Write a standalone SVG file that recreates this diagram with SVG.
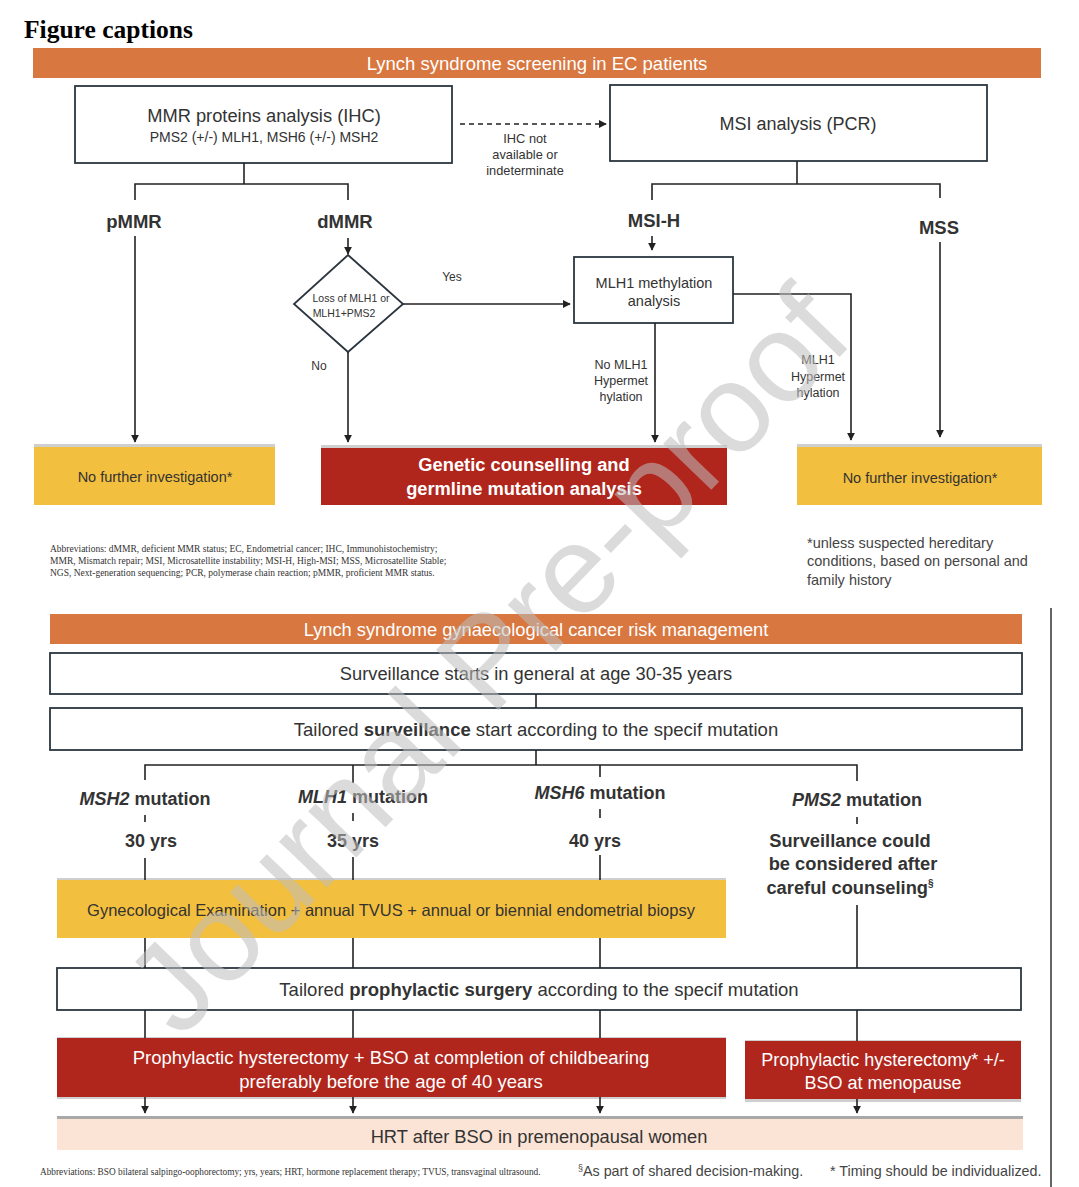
<svg xmlns="http://www.w3.org/2000/svg" width="1079" height="1187" viewBox="0 0 1079 1187">
<defs>
<style>
.bx{fill:#fff;stroke:#2b3640;stroke-width:1.8}
.ban{fill:#D8773F}
.yel{fill:#F3BF3E}
.red{fill:#B0261D}
.sh{fill:#cfcfcf}
.t{font-family:"Liberation Sans",Arial,sans-serif;fill:#333;text-anchor:middle}
.w{fill:#fff}
.b{font-weight:bold}
.ln{stroke:#222;stroke-width:1.6;fill:none}
.ab{font-family:"Liberation Serif","Times New Roman",serif;fill:#333}
.nt{font-family:"Liberation Sans",Arial,sans-serif;fill:#444}
</style>
<marker id="ah" viewBox="0 0 10 10" refX="9" refY="5" markerWidth="5" markerHeight="5" orient="auto-start-reverse">
<path d="M0,0 L10,5 L0,10 z" fill="#222"/>
</marker>
</defs>
<rect width="1079" height="1187" fill="#fff"/>

<text x="24" y="38" font-family="Liberation Serif,'Times New Roman',serif" font-weight="bold" font-size="25.5" fill="#000">Figure captions</text>

<!-- Section 1 -->
<g id="banner1">
<rect class="ban" x="33" y="48" width="1008" height="30"/>
<text class="t w" x="537" y="69.5" font-size="18.5">Lynch syndrome screening in EC patients</text>
</g>
<g id="mmr">
<rect class="bx" x="75" y="86" width="377" height="77"/>
<text class="t" x="264" y="122" font-size="18.3">MMR proteins analysis (IHC)</text>
<text class="t" x="264" y="142" font-size="14">PMS2 (+/-) MLH1, MSH6 (+/-) MSH2</text>
</g>
<g id="msi">
<rect class="bx" x="610" y="85" width="377" height="76"/>
<text class="t" x="798" y="130" font-size="18">MSI analysis (PCR)</text>
</g>
<g id="lbl-pmmr"><text class="t b" x="134" y="228" font-size="18.5">pMMR</text></g>
<g id="lbl-dmmr"><text class="t b" x="345" y="228" font-size="18.5">dMMR</text></g>
<g id="lbl-msih"><text class="t b" x="654" y="227" font-size="18.5">MSI-H</text></g>
<g id="lbl-mss"><text class="t b" x="939" y="234" font-size="18.5">MSS</text></g>
<g id="diamond">
<polygon class="bx" points="348,255 403,304 348,352 294,304"/>
<text class="t" x="351" y="302" font-size="10.5">Loss of MLH1 or</text>
<text class="t" x="344" y="317" font-size="10.5">MLH1+PMS2</text>
</g>
<g id="methyl">
<rect class="bx" x="574" y="257" width="159" height="66"/>
<text class="t" x="654" y="288" font-size="14.5">MLH1 methylation</text>
<text class="t" x="654" y="306" font-size="14.5">analysis</text>
</g>
<g id="nfi1">
<rect class="sh" x="34" y="444" width="241" height="3"/>
<rect class="yel" x="34" y="447" width="241" height="58"/>
<text class="t" x="155" y="482" font-size="14.5">No further investigation*</text>
</g>
<g id="genetic">
<rect class="sh" x="321" y="445" width="406" height="3"/>
<rect class="red" x="321" y="448" width="406" height="57"/>
<text class="t w b" x="524" y="471" font-size="18.3">Genetic counselling and</text>
<text class="t w b" x="524" y="495" font-size="18.3">germline mutation analysis</text>
</g>
<g id="nfi2">
<rect class="sh" x="797" y="444" width="245" height="3"/>
<rect class="yel" x="797" y="447" width="245" height="58"/>
<text class="t" x="920" y="483" font-size="14.5">No further investigation*</text>
</g>

<g id="connectors1">
<line x1="460" y1="124" x2="606" y2="124" stroke="#222" stroke-width="1.6" stroke-dasharray="5,4" marker-end="url(#ah)"/>
<polyline class="ln" points="244,163 244,184"/>
<polyline class="ln" points="135,200 135,184 348,184 348,200"/>
<line class="ln" x1="135" y1="236" x2="135" y2="442" marker-end="url(#ah)"/>
<line class="ln" x1="348" y1="238" x2="348" y2="254" marker-end="url(#ah)"/>
<line class="ln" x1="403" y1="304" x2="570" y2="304" marker-end="url(#ah)"/>
<line class="ln" x1="348" y1="352" x2="348" y2="442" marker-end="url(#ah)"/>
<polyline class="ln" points="797,161 797,184"/>
<polyline class="ln" points="652,200 652,184 940,184 940,198"/>
<line class="ln" x1="652" y1="236" x2="652" y2="250" marker-end="url(#ah)"/>
<line class="ln" x1="940" y1="242" x2="940" y2="437" marker-end="url(#ah)"/>
<line class="ln" x1="655" y1="323" x2="655" y2="442" marker-end="url(#ah)"/>
<polyline class="ln" points="733,294 851,294 851,440" marker-end="url(#ah)"/>
</g>
<g id="labels1">
<text class="t" x="525" y="143" font-size="12.8">IHC not</text>
<text class="t" x="525" y="159" font-size="12.8">available or</text>
<text class="t" x="525" y="175" font-size="12.8">indeterminate</text>
<text class="t" x="452" y="281" font-size="12">Yes</text>
<text class="t" x="319" y="370" font-size="12">No</text>
<text class="t" x="621" y="369" font-size="12.5">No MLH1</text>
<text class="t" x="621" y="385" font-size="12.5">Hypermet</text>
<text class="t" x="621" y="401" font-size="12.5">hylation</text>
<text class="t" x="818" y="364" font-size="12.5">MLH1</text>
<text class="t" x="818" y="381" font-size="12.5">Hypermet</text>
<text class="t" x="818" y="397" font-size="12.5">hylation</text>
</g>
<g id="abbr1">
<text class="ab" x="50" y="552" font-size="9.5">Abbreviations: dMMR, deficient MMR status; EC, Endometrial cancer; IHC, Immunohistochemistry;</text>
<text class="ab" x="50" y="564" font-size="9.5">MMR, Mismatch repair; MSI, Microsatellite instability; MSI-H, High-MSI; MSS, Microsatellite Stable;</text>
<text class="ab" x="50" y="576" font-size="9.5">NGS,  Next-generation sequencing; PCR, polymerase chain reaction; pMMR,  proficient MMR status.</text>
</g>
<g id="note1">
<text class="nt" font-size="14.5" x="807" y="548">*unless suspected hereditary</text>
<text class="nt" font-size="14.5" x="807" y="566">conditions, based on personal and</text>
<text class="nt" font-size="14.5" x="807" y="585">family history</text>
</g>

<line x1="1051" y1="608" x2="1051" y2="1187" stroke="#666" stroke-width="2"/>

<!-- Section 2 -->
<g id="banner2">
<rect class="ban" x="50" y="614" width="972" height="30"/>
<text class="t w" x="536" y="635.5" font-size="18.3">Lynch syndrome gynaecological cancer risk management</text>
</g>
<g id="surv">
<rect class="bx" x="50" y="653" width="972" height="41"/>
<text class="t" x="536" y="680" font-size="18.3">Surveillance starts in general at age 30-35 years</text>
</g>
<g id="tailored">
<rect class="bx" x="50" y="708" width="972" height="42"/>
<text class="t" x="536" y="736" font-size="18.5">Tailored <tspan font-weight="bold">surveillance</tspan> start according to the specif mutation</text>
</g>
<g id="msh2"><text class="t b" x="145" y="805" font-size="18"><tspan font-style="italic">MSH2</tspan> mutation</text><text class="t b" x="151" y="847" font-size="18">30 yrs</text></g>
<g id="mlh1"><text class="t b" x="363" y="803" font-size="18"><tspan font-style="italic">MLH1</tspan> mutation</text><text class="t b" x="353" y="847" font-size="18">35 yrs</text></g>
<g id="msh6"><text class="t b" x="600" y="799" font-size="18"><tspan font-style="italic">MSH6</tspan> mutation</text><text class="t b" x="595" y="847" font-size="18">40 yrs</text></g>
<g id="pms2"><text class="t b" x="857" y="806" font-size="18"><tspan font-style="italic">PMS2</tspan> mutation</text>
<text class="t b" x="850" y="847" font-size="18.3">Surveillance could</text>
<text class="t b" x="853" y="870" font-size="18.3">be considered after</text>
<text class="t b" x="850" y="894" font-size="18.3">careful counseling<tspan font-size="10" dy="-7">§</tspan></text></g>
<g id="gyn">
<rect class="sh" x="57" y="878" width="669" height="3"/>
<rect class="yel" x="57" y="880" width="669" height="58"/>
<text class="t" x="391" y="916" font-size="16.5">Gynecological Examination + annual TVUS + annual or biennial endometrial biopsy</text>
</g>
<g id="prosurg">
<rect class="bx" x="57" y="968" width="964" height="42"/>
<text class="t" x="539" y="996" font-size="18.5">Tailored <tspan font-weight="bold">prophylactic surgery</tspan> according to the specif mutation</text>
</g>
<g id="hyst1">
<rect class="sh" x="57" y="1037" width="669" height="62"/>
<rect class="red" x="57" y="1038" width="669" height="59"/>
<text class="t w" x="391" y="1064" font-size="18.5">Prophylactic hysterectomy + BSO at completion of childbearing</text>
<text class="t w" x="391" y="1088" font-size="18.5">preferably before the age of 40 years</text>
</g>
<g id="hyst2">
<rect class="sh" x="745" y="1040" width="276" height="62"/>
<rect class="red" x="745" y="1041" width="276" height="58"/>
<text class="t w" x="883" y="1066" font-size="18">Prophylactic hysterectomy* +/-</text>
<text class="t w" x="883" y="1089" font-size="18">BSO at menopause</text>
</g>
<g id="hrt">
<rect x="57" y="1116" width="966" height="3" fill="#a9a9a9"/>
<rect x="57" y="1119" width="966" height="31" fill="#FBE4D5"/>
<text class="t" x="539" y="1143" font-size="18.3">HRT after BSO in premenopausal women</text>
</g>

<g id="connectors2">
<line class="ln" x1="536" y1="694" x2="536" y2="708"/>
<line class="ln" x1="536" y1="750" x2="536" y2="765"/>
<polyline class="ln" points="145,780 145,765 857,765 857,781"/>
<line class="ln" x1="353" y1="765" x2="353" y2="783"/>
<line class="ln" x1="600" y1="765" x2="600" y2="777"/>
<line class="ln" x1="145" y1="815" x2="145" y2="822"/>
<line class="ln" x1="353" y1="813" x2="353" y2="821"/>
<line class="ln" x1="600" y1="809" x2="600" y2="818"/>
<line class="ln" x1="857" y1="817" x2="857" y2="824"/>
<line class="ln" x1="145" y1="858" x2="145" y2="880"/>
<line class="ln" x1="353" y1="857" x2="353" y2="880"/>
<line class="ln" x1="600" y1="855" x2="600" y2="880"/>
<line class="ln" x1="857" y1="905" x2="857" y2="968"/>
<line class="ln" x1="145" y1="938" x2="145" y2="968"/>
<line class="ln" x1="353" y1="938" x2="353" y2="968"/>
<line class="ln" x1="600" y1="938" x2="600" y2="968"/>
<line class="ln" x1="145" y1="1010" x2="145" y2="1038"/>
<line class="ln" x1="353" y1="1010" x2="353" y2="1038"/>
<line class="ln" x1="600" y1="1010" x2="600" y2="1038"/>
<line class="ln" x1="857" y1="1010" x2="857" y2="1041"/>
<line class="ln" x1="145" y1="1097" x2="145" y2="1113" marker-end="url(#ah)"/>
<line class="ln" x1="353" y1="1097" x2="353" y2="1113" marker-end="url(#ah)"/>
<line class="ln" x1="600" y1="1097" x2="600" y2="1113" marker-end="url(#ah)"/>
<line class="ln" x1="857" y1="1099" x2="857" y2="1113" marker-end="url(#ah)"/>
</g>

<g id="footer2">
<text class="ab" x="40" y="1175" font-size="9.3">Abbreviations: BSO bilateral salpingo-oophorectomy; yrs, years; HRT, hormone replacement therapy; TVUS, transvaginal ultrasound.</text>
<text class="nt" font-size="14.3" fill="#333" x="578" y="1176"><tspan font-size="9" dy="-5">§</tspan><tspan dy="5">As part of shared decision-making.</tspan></text>
<text class="nt" font-size="14.3" fill="#333" x="830" y="1176">* Timing should be individualized.</text>
</g>

<g id="watermark">
<text x="518" y="690" transform="rotate(-46 518 690)" font-family="Liberation Sans,Arial,sans-serif" font-size="126" fill="#bdbdbd" fill-opacity="0.55" text-anchor="middle">Journal Pre-proof</text>
</g>
</svg>
